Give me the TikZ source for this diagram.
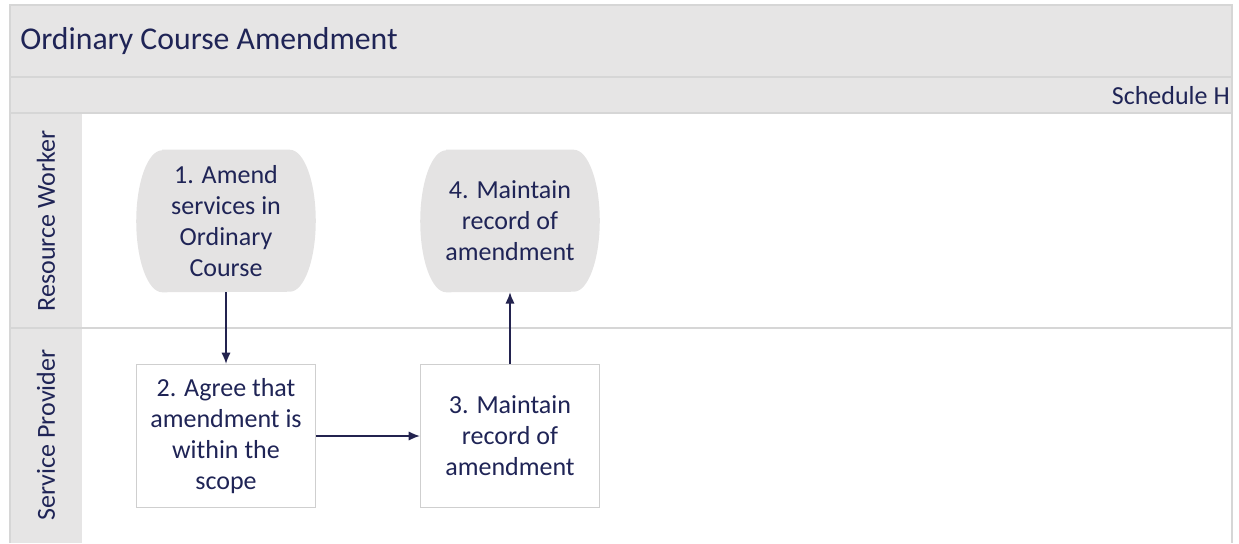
\documentclass[tikz,border=0pt]{standalone}
\usepackage{fontspec}
\setmainfont{Carlito}
\usetikzlibrary{arrows.meta,backgrounds}
\definecolor{bandgray}{HTML}{E6E5E5}
\definecolor{linegray}{HTML}{D6D6D6}
\definecolor{termfill}{HTML}{E4E3E3}
\definecolor{boxline}{HTML}{CFCFCF}
\definecolor{navy}{HTML}{1F2456}
\definecolor{arrowc}{HTML}{23234F}
\tikzset{
  x=0.75pt, y=-0.75pt,
  txt/.style={text=navy, font=\fontsize{19.5}{23.25}\selectfont, align=center, inner sep=0pt},
  stepbox/.style={txt, draw=boxline, line width=0.9pt, fill=white, minimum width=134.25pt, minimum height=107.25pt},
  term/.style={txt, minimum width=134.25pt, minimum height=106.5pt},
  lanelabel/.style={text=navy, font=\fontsize{19.5}{23.25}\selectfont, rotate=90, inner sep=0pt},
  flow/.style={draw=arrowc, line width=1.1pt, -{Latex[length=8.5pt,width=7pt]}},
}
\newcommand{\termshape}[1]{%
  \fill[termfill] ([xshift=19.5pt]#1.north west) -- ([xshift=-19.5pt]#1.north east)
    arc[start angle=90, end angle=-90, x radius=19.5pt, y radius=53.25pt]
    -- ([xshift=19.5pt]#1.south west)
    arc[start angle=270, end angle=90, x radius=19.5pt, y radius=53.25pt] -- cycle;}
\begin{document}
\begin{tikzpicture}
\useasboundingbox (0,0) rectangle (1239,543);
% bands
\fill[bandgray] (10,5) rectangle (1232,113);
\fill[bandgray] (10,113) rectangle (82,543);
\draw[linegray, line width=1.2pt] (10,77) -- (1232,77);
\draw[linegray, line width=1.2pt] (10,113) -- (1232,113);
\draw[linegray, line width=0.9pt] (10,328) -- (1232,328);
\draw[linegray, line width=1.2pt] (10,543) -- (10,5) -- (1232,5) -- (1232,543);
% headers
\node[text=navy, font=\fontsize{23.8}{28}\selectfont, anchor=west, inner sep=0pt] (title) at (20,41) {Ordinary Course Amendment};
\node[text=navy, font=\fontsize{19.5}{23.25}\selectfont, anchor=east, inner sep=0pt] (sched) at (1230,96) {Schedule H};
\node[lanelabel] (rw) at (46,221) {Resource Worker};
\node[lanelabel] (sp) at (46,435) {Service Provider};
% nodes
\node[term] (n1) at (226,221) {1. Amend\\services in\\Ordinary\\Course};
\node[term] (n4) at (510,221) {4. Maintain\\record of\\amendment};
\begin{scope}[on background layer]
  \termshape{n1}
  \termshape{n4}
\end{scope}
\node[stepbox] (n2) at (226,436) {2. Agree that\\amendment is\\within the\\scope};
\node[stepbox] (n3) at (510,436) {3. Maintain\\record of\\amendment};
% connectors
\draw[flow] (n1.south) -- (n2.north);
\draw[flow] (n2.east) -- (n3.west);
\draw[flow] (n3.north) -- (n4.south);
\end{tikzpicture}
\end{document}
